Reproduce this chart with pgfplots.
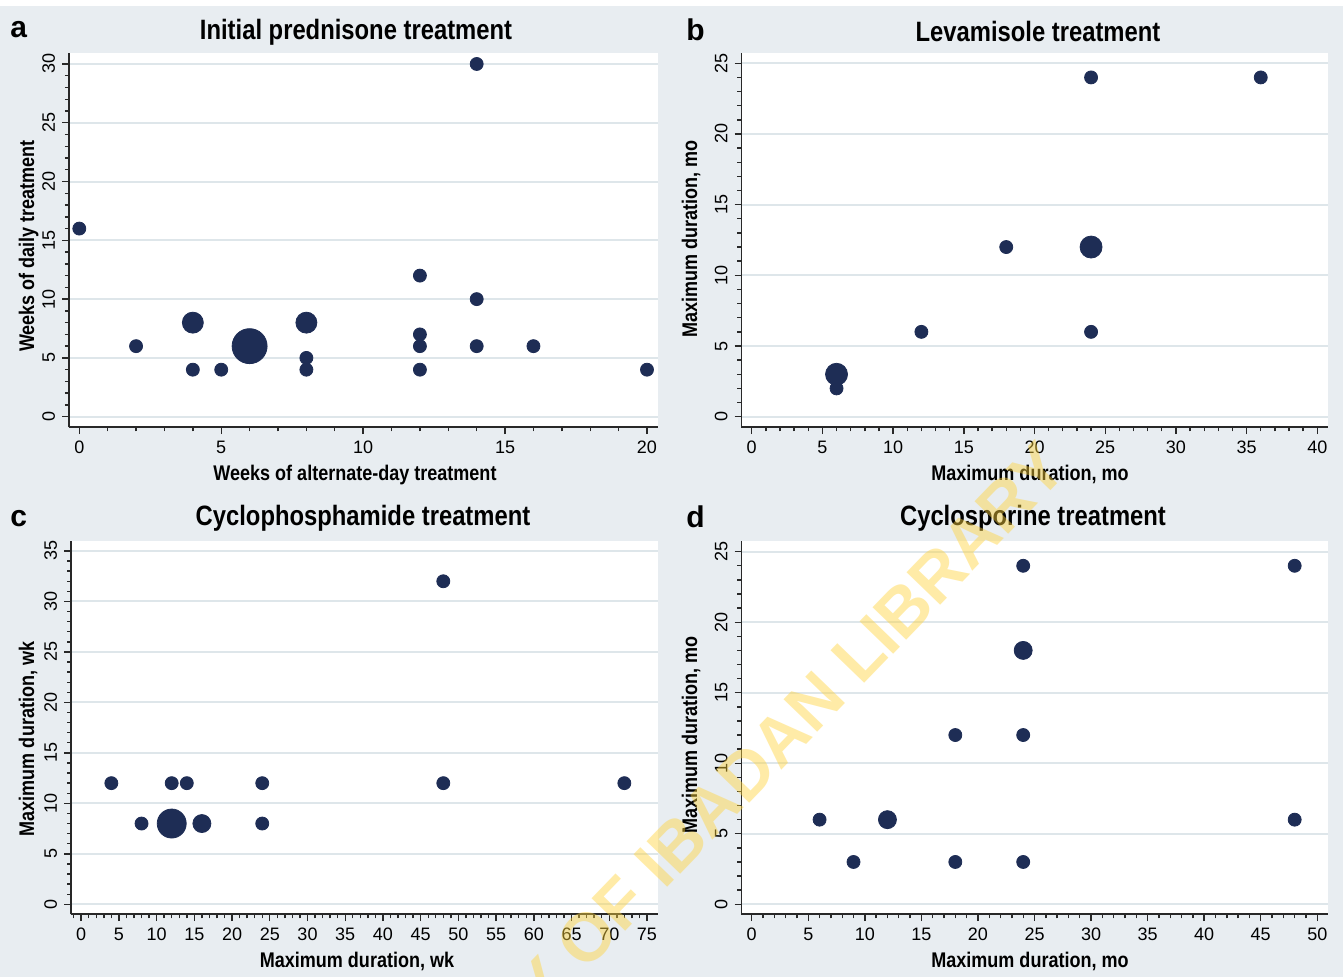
\documentclass[border=0pt]{standalone}
\usepackage{fontspec}
\setmainfont{Liberation Sans}
\newfontfamily\nb[FakeStretch=0.85]{Liberation Sans}
\usepackage{pgfplots}
\pgfplotsset{compat=1.18}
\definecolor{bg}{RGB}{232,237,241}
\definecolor{navy}{RGB}{30,45,85}
\definecolor{gridc}{RGB}{222,230,234}
\definecolor{axc}{RGB}{40,40,40}
\definecolor{wm}{RGB}{255,212,60}
\pgfplotsset{
  panel/.style={
    scale only axis, anchor=south west,
    axis x line*=bottom, axis y line*=left,
    axis line style={axc, line width=0.8pt, -},
    axis background/.style={fill=white},
    ymajorgrids, grid style={gridc, line width=1pt},
    tick align=outside,
    major tick length=3.4pt, minor tick length=2pt,
    every tick/.style={axc, line width=0.7pt},
    minor x tick num=4, minor y tick num=4,
    xtick distance=5, ytick distance=5,
    /pgf/number format/assume math mode=true,
    ticklabel style={font=\fontsize{9}{10}\selectfont, text=black},
    yticklabel style={rotate=90, anchor=south},
    clip=false,
  },
  sm/.style={only marks, mark=*, mark size=3.25pt, mark options={draw=navy, fill=navy}, draw=navy},
  md/.style={sm, mark size=#1},
}
\begin{document}
\begin{tikzpicture}
\path[use as bounding box, fill=bg] (0,0) rectangle (671.5pt,488.5pt);
\fill[white] (0,485.5pt) rectangle (671.5pt,488.5pt);

% ---- panel a
\begin{axis}[panel, at={(34.5pt,274.85pt)}, width=294.5pt, height=187.3pt,
  xmin=-0.363, xmax=20.388, ymin=-0.90, ymax=30.96]
\addplot[sm] coordinates {(0,16) (2,6) (4,4) (5,4) (8,5) (8,4) (12,12) (12,7) (12,6) (12,4) (14,30) (14,10) (14,6) (16,6) (20,4)};
\addplot[md=5.25pt] coordinates {(4,8) (8,8)};
\addplot[md=8.75pt] coordinates {(6,6)};
\end{axis}

% ---- panel b
\begin{axis}[panel, at={(370.65pt,274.85pt)}, width=293.2pt, height=187.3pt,
  xmin=-0.735, xmax=40.735, ymin=-0.75, ymax=25.75]
\addplot[sm] coordinates {(6,2) (12,6) (18,12) (24,24) (24,6) (36,24)};
\addplot[md=5.5pt] coordinates {(6,3) (24,12)};
\end{axis}

% ---- panel c
\begin{axis}[panel, at={(35.5pt,31.35pt)}, width=293.5pt, height=186.8pt,
  xmin=-1.35, xmax=76.46, ymin=-0.99, ymax=36.02]
\addplot[sm] coordinates {(4,12) (12,12) (14,12) (24,12) (48,12) (72,12) (48,32) (8,8) (24,8)};
\addplot[md=4.5pt] coordinates {(16,8)};
\addplot[md=7.25pt] coordinates {(12,8)};
\end{axis}

% ---- panel d
\begin{axis}[panel, at={(370.65pt,31.35pt)}, width=293.2pt, height=186.8pt,
  xmin=-0.92, xmax=50.92, ymin=-0.71, ymax=25.78]
\addplot[sm] coordinates {(6,6) (9,3) (18,3) (24,3) (18,12) (24,12) (24,24) (48,24) (48,6)};
\addplot[md=4.5pt] coordinates {(12,6) (24,18)};
\end{axis}

% ---- letters
\node[anchor=base west, inner sep=0, font=\fontsize{15}{18}\selectfont\bfseries] at (5pt,469.5pt) {a};
\node[anchor=base west, inner sep=0, font=\fontsize{15}{18}\selectfont\bfseries] at (343pt,468pt) {b};
\node[anchor=base west, inner sep=0, font=\fontsize{15}{18}\selectfont\bfseries] at (5pt,225pt) {c};
\node[anchor=base west, inner sep=0, font=\fontsize{15}{18}\selectfont\bfseries] at (343pt,224.5pt) {d};
% ---- titles
\node[anchor=base, inner sep=0, font=\nb\bfseries\fontsize{14}{16}\selectfont] at (178pt,468.5pt) {Initial prednisone treatment};
\node[anchor=base, inner sep=0, font=\nb\bfseries\fontsize{14}{16}\selectfont] at (519pt,467.5pt) {Levamisole treatment};
\node[anchor=base, inner sep=0, font=\nb\bfseries\fontsize{14}{16}\selectfont] at (181.5pt,225.5pt) {Cyclophosphamide treatment};
\node[anchor=base, inner sep=0, font=\nb\bfseries\fontsize{14}{16}\selectfont] at (516.5pt,225.5pt) {Cyclosporine treatment};
% ---- x labels
\node[anchor=base, inner sep=0, font=\nb\bfseries\fontsize{10.6}{13}\selectfont] at (177.5pt,248pt) {Weeks of alternate-day treatment};
\node[anchor=base, inner sep=0, font=\nb\bfseries\fontsize{10.6}{13}\selectfont] at (515pt,248pt) {Maximum duration, mo};
\node[anchor=base, inner sep=0, font=\nb\bfseries\fontsize{10.6}{13}\selectfont] at (178.5pt,4.5pt) {Maximum duration, wk};
\node[anchor=base, inner sep=0, font=\nb\bfseries\fontsize{10.6}{13}\selectfont] at (515pt,4.5pt) {Maximum duration, mo};
% ---- y labels
\node[anchor=base, rotate=90, inner sep=0, font=\nb\bfseries\fontsize{10.6}{13}\selectfont] at (17pt,365.5pt) {Weeks of daily treatment};
\node[anchor=base, rotate=90, inner sep=0, font=\nb\bfseries\fontsize{10.6}{13}\selectfont] at (348.5pt,369pt) {Maximum duration, mo};
\node[anchor=base, rotate=90, inner sep=0, font=\nb\bfseries\fontsize{10.6}{13}\selectfont] at (17pt,119pt) {Maximum duration, wk};
\node[anchor=base, rotate=90, inner sep=0, font=\nb\bfseries\fontsize{10.6}{13}\selectfont] at (348.5pt,121pt) {Maximum duration, mo};
% ---- watermark
\node[anchor=base east, rotate=46, inner sep=0, text=wm, text opacity=0.45, font=\bfseries\fontsize{34}{40}\selectfont] at (535pt,253pt) {UNIVERSITY OF IBADAN LIBRARY};
\end{tikzpicture}
\end{document}
